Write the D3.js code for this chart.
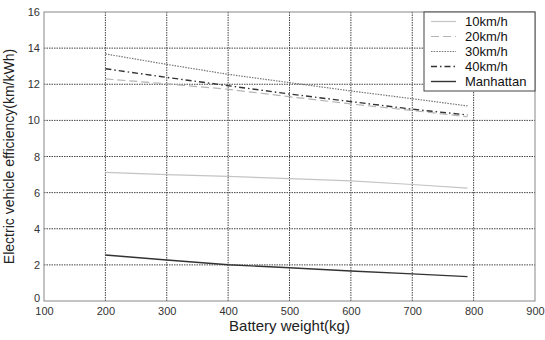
<!DOCTYPE html>
<html><head><meta charset="utf-8">
<script src="https://cdn.jsdelivr.net/npm/d3@7"></script>
<style>
body{margin:0;background:#fff;}
svg{font-family:"Liberation Sans",Arial,Helvetica,sans-serif;}
</style></head>
<body><svg id="c" width="545" height="340"></svg>
<script>
const weights = [200, 300, 400, 500, 600, 700, 790];
const speed10 = [7.12, 7.0, 6.9, 6.78, 6.65, 6.45, 6.25];
const speed20 = [12.3, 12.02, 11.72, 11.31, 10.91, 10.55, 10.2];
const speed30 = [13.68, 13.1, 12.55, 12.09, 11.63, 11.2, 10.8];
const speed40 = [12.86, 12.38, 11.92, 11.46, 11.04, 10.62, 10.3];
const manhattan = [2.55, 2.27, 2.01, 1.84, 1.66, 1.5, 1.35];
const seriesNames = ["10km/h", "20km/h", "30km/h", "40km/h", "Manhattan"];
const xTicks = [100, 200, 300, 400, 500, 600, 700, 800, 900];
const yTicks = [0, 2, 4, 6, 8, 10, 12, 14, 16];

const svg = d3.select("#c");
const L = 44, R = 535, T = 12, B = 301;
const x = d3.scaleLinear().domain([100, 900]).range([L, R]);
const y = d3.scaleLinear().domain([0, 16]).range([B, T]);

// grid
const g = svg.append("g");
g.selectAll("line.gx").data(xTicks.slice(1, -1)).join("line")
  .attr("x1", d => x(d)).attr("x2", d => x(d)).attr("y1", T).attr("y2", B)
  .attr("stroke", "#444").attr("stroke-width", 1).attr("stroke-dasharray", "1.5,1");
g.selectAll("line.gy").data(yTicks.slice(1, -1)).join("line")
  .attr("y1", d => y(d)).attr("y2", d => y(d)).attr("x1", L).attr("x2", R)
  .attr("stroke", "#444").attr("stroke-width", 1).attr("stroke-dasharray", "1.5,1");

// border
svg.append("rect").attr("x", L).attr("y", T).attr("width", R - L).attr("height", B - T)
  .attr("fill", "none").attr("stroke", "#888").attr("stroke-width", 1);

// axes
const xa = svg.append("g").attr("transform", `translate(0,${B})`)
  .call(d3.axisBottom(x).tickValues(xTicks).tickSize(0).tickPadding(6).tickFormat(d3.format("d")));
const ya = svg.append("g").attr("transform", `translate(${L},0)`)
  .call(d3.axisLeft(y).tickValues(yTicks).tickSize(0).tickPadding(4).tickFormat(d3.format("d")));
[xa, ya].forEach(a => {
  a.select(".domain").remove();
  a.selectAll("text").attr("font-size", 11).attr("fill", "#333")
    .attr("font-family", "'Liberation Sans',Arial,sans-serif");
});
ya.selectAll(".tick").filter(d => d === 0).select("text").attr("y", -3);

svg.append("text").attr("x", (L + R) / 2).attr("y", 331).attr("text-anchor", "middle")
  .attr("font-size", 15).attr("fill", "#222").text("Battery weight(kg)");
svg.append("text").attr("transform", `translate(14,${(T + B) / 2}) rotate(-90)`)
  .attr("text-anchor", "middle").attr("font-size", 14).attr("fill", "#222")
  .text("Electric vehicle efficiency(km/kWh)");

const styles = [
  {data: speed10, color: "#c4c4c4", dash: null, w: 1.2},
  {data: speed20, color: "#b4b4b4", dash: "8,4", w: 1.2},
  {data: speed30, color: "#777", dash: "1.5,1.2", w: 1.2},
  {data: speed40, color: "#333", dash: "6,3,1.5,3", w: 1.4},
  {data: manhattan, color: "#333", dash: null, w: 1.4}
];
const line = d3.line().x((d, i) => x(weights[i])).y(d => y(d));
styles.forEach(s => {
  svg.append("path").datum(s.data).attr("d", line).attr("fill", "none")
    .attr("stroke", s.color).attr("stroke-width", s.w)
    .attr("stroke-dasharray", s.dash);
});

// legend
const lg = svg.append("g");
lg.append("rect").attr("x", 424).attr("y", T).attr("width", R - 424).attr("height", 79)
  .attr("fill", "#fff").attr("stroke", "#444").attr("stroke-width", 1);
seriesNames.forEach((n, i) => {
  const yy = 21.5 + i * 15;
  lg.append("line").attr("x1", 431).attr("x2", 456).attr("y1", yy).attr("y2", yy)
    .attr("stroke", styles[i].color).attr("stroke-width", styles[i].w)
    .attr("stroke-dasharray", styles[i].dash);
  lg.append("text").attr("x", 465).attr("y", yy + 4.5).attr("font-size", 13)
    .attr("fill", "#111").text(n);
});
</script></body></html>
